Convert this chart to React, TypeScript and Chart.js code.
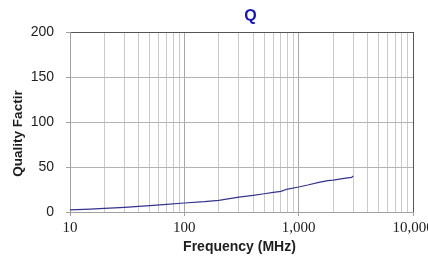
import React, { useEffect, useRef } from 'react';
import { Chart, registerables } from 'chart.js';

Chart.register(...registerables);

const frequencies = [10, 15, 20, 30, 40, 50, 70, 100, 150, 200, 300, 400, 500, 600, 700, 800, 1000, 1200, 1500, 1800, 2000, 2500, 2900, 3000];
const qualityValues = [2.3, 3.3, 4.0, 5.2, 6.2, 7.0, 8.5, 10.0, 11.5, 13.0, 16.5, 18.5, 20.3, 21.8, 23.0, 25.5, 27.8, 30.0, 33.0, 34.8, 35.5, 37.3, 38.5, 40.0];

const yTickValues = [0, 50, 100, 150, 200];
const xGridValues = [10, 20, 30, 40, 50, 60, 70, 80, 90, 100, 200, 300, 400, 500, 600, 700, 800, 900, 1000, 2000, 3000, 4000, 5000, 6000, 7000, 8000, 9000, 10000];
const xMajorValues = [10, 100, 1000, 10000];
const xMajorLabels = ['10', '100', '1,000', '10,000'];

const chartTitle = 'Q';
const xAxisTitle = 'Frequency (MHz)';
const yAxisTitle = 'Quality Factir';

const SANS = '"Liberation Sans", Arial, sans-serif';
const SERIF = '"Liberation Serif", "Times New Roman", serif';

const titlesPlugin = {
  id: 'customTitles',
  afterDraw(chart: any) {
    const { ctx, chartArea } = chart;
    const cx = (chartArea.left + chartArea.right) / 2;
    ctx.save();
    ctx.textAlign = 'center';
    ctx.textBaseline = 'middle';
    ctx.fillStyle = '#1414c8';
    ctx.font = 'bold 16px ' + SANS;
    ctx.fillText(chartTitle, cx + 9, 16.5);
    ctx.fillStyle = '#1e1e1e';
    ctx.font = 'bold 14px ' + SANS;
    ctx.fillText(xAxisTitle, cx - 2, 246.7);
    ctx.translate(17.8, 133.5);
    ctx.rotate(-Math.PI / 2);
    ctx.font = 'bold 13.5px ' + SANS;
    ctx.fillText(yAxisTitle, 0, 0);
    ctx.restore();
  },
};

export default function App() {
  const canvasRef = useRef<HTMLCanvasElement | null>(null);

  useEffect(() => {
    if (!canvasRef.current) return;
    const points = frequencies.map((f, i) => ({ x: f, y: qualityValues[i] }));
    const chart = new Chart(canvasRef.current, {
      type: 'line',
      data: {
        datasets: [
          {
            data: points,
            borderColor: '#34348e',
            borderWidth: 1.2,
            pointRadius: 0,
            tension: 0,
            fill: false,
          },
        ],
      },
      options: {
        animation: false,
        responsive: false,
        layout: { padding: { left: 0, right: 47, top: 32, bottom: 0 } },
        plugins: {
          legend: { display: false },
          title: { display: false },
          tooltip: { enabled: false },
        },
        scales: {
          x: {
            type: 'logarithmic',
            min: 10,
            max: 10000,
            afterBuildTicks: (s: any) => {
              s.ticks = xGridValues.map((v) => ({ value: v, major: xMajorValues.includes(v) }));
            },
            afterFit: (s: any) => {
              s.height = 48;
            },
            ticks: {
              autoSkip: false,
              maxRotation: 0,
              minRotation: 0,
              padding: 3,
              color: '#222',
              font: { family: SERIF, size: 15 },
              callback: (v: any) => {
                const i = xMajorValues.indexOf(Number(v));
                return i >= 0 ? xMajorLabels[i] : '';
              },
            },
            grid: {
              color: (c: any) => {
                const v = c.tick ? c.tick.value : 0;
                if (v === 10000) return '#555555';
                if (xMajorValues.includes(v)) return '#a8a8a8';
                return '#cacaca';
              },
              tickColor: (c: any) => {
                const v = c.tick ? c.tick.value : 0;
                return xMajorValues.includes(v) ? '#a0a0a0' : 'rgba(0,0,0,0)';
              },
              tickLength: 4,
            },
            border: { color: '#a0a0a0' },
          },
          y: {
            min: 0,
            max: 200,
            afterBuildTicks: (s: any) => {
              s.ticks = yTickValues.map((v) => ({ value: v }));
            },
            afterFit: (s: any) => {
              s.width = 70;
            },
            ticks: {
              padding: 12,
              color: '#222',
              font: { family: SANS, size: 14 },
            },
            grid: {
              color: (c: any) => (c.tick && c.tick.value === 200 ? '#555555' : '#b4b4b4'),
              tickColor: '#a0a0a0',
              tickLength: 4,
            },
            border: { color: '#a0a0a0' },
          },
        },
      },
      plugins: [titlesPlugin],
    });
    return () => chart.destroy();
  }, []);

  return (
    <div
      style={{
        position: 'fixed',
        left: 0,
        top: 0,
        width: 428,
        height: 260,
        overflow: 'hidden',
        background: '#ffffff',
      }}
    >
      <canvas ref={canvasRef} width={460} height={260} style={{ display: 'block' }} />
    </div>
  );
}
